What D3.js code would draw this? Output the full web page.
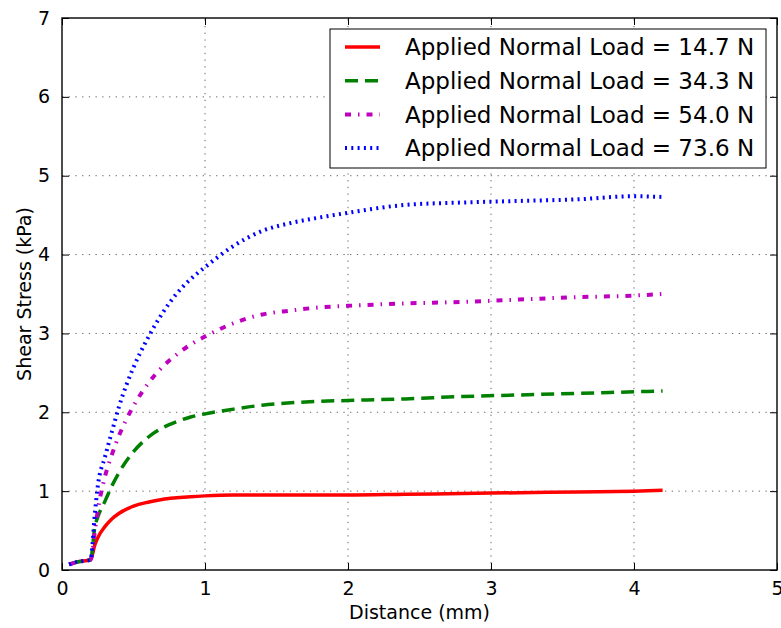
<!DOCTYPE html>
<html>
<head>
<meta charset="utf-8">
<script src="https://cdn.jsdelivr.net/npm/d3@7"></script>
<style>
  body { margin: 0; background: #fff; }
  svg { display: block; font-family: "DejaVu Sans", sans-serif; }
</style>
</head>
<body>
<div id="container"></div>
<script>
const width = 781;
const height = 628;

// distance (mm) shared by all four runs
const distance = [0.05, 0.1, 0.2, 0.23, 0.25, 0.3, 0.35, 0.4, 0.5, 0.6, 0.7, 0.8, 0.9, 1.0,
    1.2, 1.4, 1.6, 1.8, 2.0, 2.4, 2.8, 3.2, 3.6, 4.0, 4.2];

// shear stress (kPa)
const load147 = [0.07, 0.1, 0.13, 0.32, 0.41, 0.55, 0.65, 0.72, 0.81, 0.86, 0.895, 0.915, 0.93, 0.94,
    0.95, 0.95, 0.95, 0.95, 0.95, 0.96, 0.97, 0.98, 0.99, 1.0, 1.01];
const load343 = [0.07, 0.1, 0.13, 0.55, 0.67, 0.87, 1.07, 1.24, 1.50, 1.68, 1.80, 1.88, 1.94, 1.98,
    2.04, 2.09, 2.12, 2.14, 2.15, 2.17, 2.20, 2.22, 2.24, 2.26, 2.27];
const load540 = [0.07, 0.1, 0.13, 0.5, 0.75, 1.18, 1.47, 1.71, 2.08, 2.36, 2.57, 2.73, 2.86, 2.96,
    3.13, 3.24, 3.29, 3.33, 3.35, 3.38, 3.40, 3.43, 3.46, 3.48, 3.50];
const load736 = [0.07, 0.1, 0.13, 0.72, 1.06, 1.43, 1.76, 2.08, 2.57, 2.94, 3.25, 3.50, 3.69, 3.84,
    4.11, 4.30, 4.40, 4.47, 4.53, 4.63, 4.66, 4.68, 4.70, 4.74, 4.73];

const labels = ['Applied Normal Load = 14.7 N', 'Applied Normal Load = 34.3 N',
    'Applied Normal Load = 54.0 N', 'Applied Normal Load = 73.6 N'];
const xTicks = [0, 1, 2, 3, 4, 5];
const yTicks = [0, 1, 2, 3, 4, 5, 6, 7];

const styles = [
    { color: '#ff0000', dash: null, w: 3.5 },
    { color: '#008000', dash: '13,7', w: 3.5 },
    { color: '#bf00bf', dash: '6,7,1.5,7', w: 4 },
    { color: '#0000ff', dash: '2,4.3', w: 4 }
];

const series = [load147, load343, load540, load736].map((vals, i) => ({
    label: labels[i],
    style: styles[i],
    points: vals.map((v, j) => [distance[j], v])
}));

const margin = { left: 62, right: 4, top: 18, bottom: 58 };

const svg = d3.select('#container').append('svg')
    .attr('width', width)
    .attr('height', height);

const x = d3.scaleLinear().domain([0, 5]).range([margin.left, width - margin.right]);
const y = d3.scaleLinear().domain([0, 7]).range([height - margin.bottom, margin.top]);

// grid
svg.append('g')
    .selectAll('line.vg')
    .data(xTicks.slice(1, -1))
    .join('line')
    .attr('x1', d => x(d)).attr('x2', d => x(d))
    .attr('y1', y(0)).attr('y2', y(7))
    .attr('stroke', '#666').attr('stroke-width', 1).attr('stroke-dasharray', '1.3,5.4');
svg.append('g')
    .selectAll('line.hg')
    .data(yTicks.slice(1, -1))
    .join('line')
    .attr('x1', x(0)).attr('x2', x(5))
    .attr('y1', d => y(d)).attr('y2', d => y(d))
    .attr('stroke', '#666').attr('stroke-width', 1).attr('stroke-dasharray', '1.3,5.4');

// curves
const line = d3.line()
    .x(d => x(d[0]))
    .y(d => y(d[1]))
    .curve(d3.curveMonotoneX);

svg.append('g')
    .selectAll('path')
    .data(series)
    .join('path')
    .attr('d', d => line(d.points))
    .attr('fill', 'none')
    .attr('stroke', d => d.style.color)
    .attr('stroke-width', d => d.style.w)
    .attr('stroke-dasharray', d => d.style.dash)
    .attr('stroke-linejoin', 'round');

// axes, ticks pointing inward on all four sides
const tickLen = 7;
const fmt = d3.format('d');
svg.append('g')
    .attr('transform', `translate(0,${y(0)})`)
    .call(d3.axisBottom(x).tickValues(xTicks).tickFormat(fmt).tickSize(-tickLen).tickPadding(12));
svg.append('g')
    .attr('transform', `translate(0,${y(7)})`)
    .call(d3.axisTop(x).tickValues(xTicks).tickFormat('').tickSize(-tickLen));
svg.append('g')
    .attr('transform', `translate(${x(0)},0)`)
    .call(d3.axisLeft(y).tickValues(yTicks).tickFormat(fmt).tickSize(-tickLen).tickPadding(12));
svg.append('g')
    .attr('transform', `translate(${x(5)},0)`)
    .call(d3.axisRight(y).tickValues(yTicks).tickFormat('').tickSize(-tickLen));

svg.selectAll('.domain').remove();
svg.selectAll('.tick line').attr('stroke', '#000').attr('stroke-width', 1);
svg.selectAll('.tick text')
    .attr('font-family', '"DejaVu Sans", sans-serif')
    .attr('font-size', 19)
    .attr('fill', '#000');

svg.append('rect')
    .attr('x', x(0)).attr('y', y(7))
    .attr('width', x(5) - x(0)).attr('height', y(0) - y(7))
    .attr('fill', 'none').attr('stroke', '#000').attr('stroke-width', 1.4);

// axis labels
svg.append('text')
    .attr('x', (x(0) + x(5)) / 2)
    .attr('y', 619)
    .attr('text-anchor', 'middle')
    .attr('font-size', 19)
    .text('Distance (mm)');

svg.append('text')
    .attr('transform', `translate(31,${(y(0) + y(7)) / 2}) rotate(-90)`)
    .attr('text-anchor', 'middle')
    .attr('font-size', 19)
    .text('Shear Stress (kPa)');

// legend
const legend = svg.append('g').attr('transform', 'translate(330,29)');
legend.append('rect')
    .attr('width', 436).attr('height', 139)
    .attr('fill', '#fff').attr('stroke', '#000').attr('stroke-width', 1);

const rows = legend.selectAll('g.row')
    .data(series)
    .join('g')
    .attr('transform', (d, i) => `translate(0,${18 + i * 33.7})`);
rows.append('line')
    .attr('x1', 15).attr('x2', 50)
    .attr('stroke', d => d.style.color)
    .attr('stroke-width', d => d.style.w)
    .attr('stroke-dasharray', d => d.style.dash);
rows.append('text')
    .attr('x', 75)
    .attr('dy', '0.36em')
    .attr('font-size', 23)
    .text(d => d.label);
</script>
</body>
</html>
